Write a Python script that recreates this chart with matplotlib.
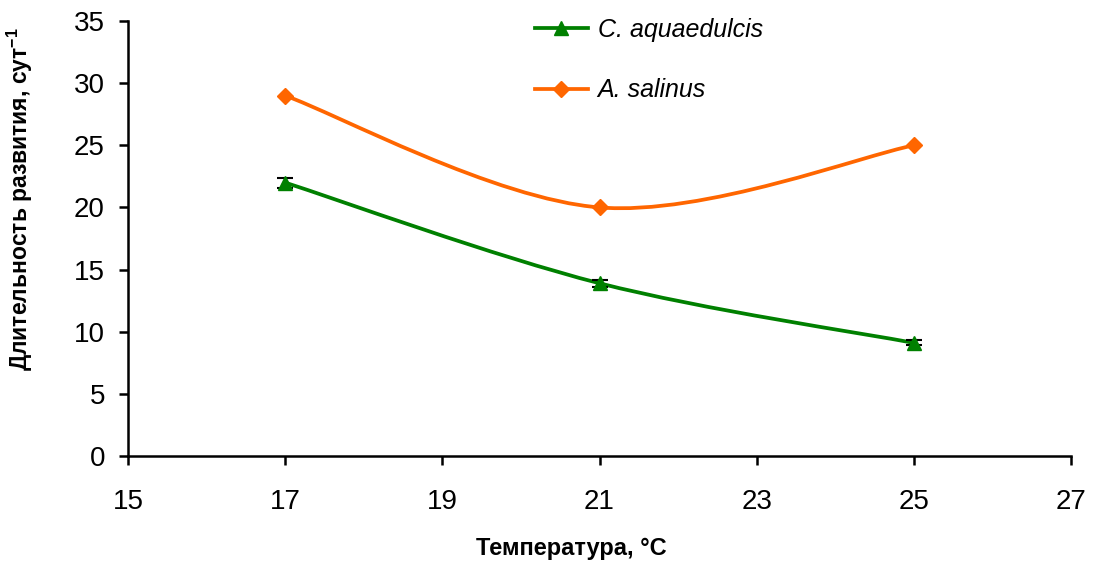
import matplotlib
matplotlib.use('Agg')
import matplotlib.pyplot as plt
from matplotlib.path import Path
from matplotlib.patches import PathPatch
from matplotlib.lines import Line2D

plt.rcParams['font.family'] = ['Liberation Sans', 'DejaVu Sans']
plt.rcParams['mathtext.default'] = 'regular'

# data
temps = [17, 21, 25]
c_aqua = [22.0, 13.9, 9.1]
c_aqua_err = [0.4, 0.3, 0.2]
a_salinus = [29.0, 20.0, 25.0]

GREEN = '#008000'
ORANGE = '#FF6600'


def smooth_path(xs, ys):
	# Excel-like smoothed line: cubic bezier through the points
	pts = list(zip(xs, ys))
	n = len(pts)
	verts = [pts[0]]
	codes = [Path.MOVETO]
	for i in range(n - 1):
		p0 = pts[i - 1] if i > 0 else pts[i]
		p1 = pts[i]
		p2 = pts[i + 1]
		p3 = pts[i + 2] if i + 2 < n else pts[i + 1]
		c1 = (p1[0] + (p2[0] - p0[0]) / 6, p1[1] + (p2[1] - p0[1]) / 6)
		c2 = (p2[0] - (p3[0] - p1[0]) / 6, p2[1] - (p3[1] - p1[1]) / 6)
		verts += [c1, c2, p2]
		codes += [Path.CURVE4] * 3
	return Path(verts, codes)


fig = plt.figure(figsize=(10.93, 5.62), dpi=100)
ax = fig.add_axes([0.117, 0.1886, 0.863, 0.774])

for ys, col in [(c_aqua, GREEN), (a_salinus, ORANGE)]:
	ax.add_patch(PathPatch(smooth_path(temps, ys), facecolor='none', edgecolor=col,
		linewidth=2.7, transform=ax.transData, zorder=2))

ax.errorbar(temps, c_aqua, yerr=c_aqua_err, fmt='none', ecolor='black',
	elinewidth=1.5, capsize=6, capthick=1.5, zorder=3)
ax.plot(temps, c_aqua, linestyle='none', marker='^', markersize=10.5, color=GREEN, zorder=4)
ax.plot(temps, a_salinus, linestyle='none', marker='D', markersize=8, color=ORANGE, zorder=4)

ax.set_xlim(15, 27)
ax.set_ylim(0, 35)
ax.set_xticks(range(15, 28, 2))
ax.set_yticks(range(0, 36, 5))
for s in ['top', 'right']:
	ax.spines[s].set_visible(False)
for s in ['left', 'bottom']:
	ax.spines[s].set_linewidth(1.8)
ax.tick_params(axis='both', direction='out', length=6.5, width=1.8)
ax.tick_params(axis='y', labelsize=20, pad=10)
ax.tick_params(axis='x', labelsize=20, pad=17)

ax.set_ylabel('Длительность развития, сут$^{-1}$', fontsize=16.5, fontweight='bold')
ax.yaxis.set_label_coords(-0.098, 0.59)
fig.text(571 / 1093, 1 - 548 / 562, 'Температура, °C', fontsize=17, fontweight='bold',
	ha='center', va='center')

handles = [
	Line2D([], [], color=GREEN, linewidth=2.7, marker='^', markersize=10.5),
	Line2D([], [], color=ORANGE, linewidth=2.7, marker='D', markersize=8),
]
leg = fig.legend(handles, ['C. aquaedulcis', 'A. salinus'], loc='upper left',
	bbox_to_anchor=(535 / 1093, 1 - 18 / 562), frameon=False, borderpad=0,
	borderaxespad=0, handlelength=2.1, handletextpad=0.4, labelspacing=1.45,
	prop={'size': 18, 'style': 'italic'})

fig.savefig('out.png', dpi=100)
